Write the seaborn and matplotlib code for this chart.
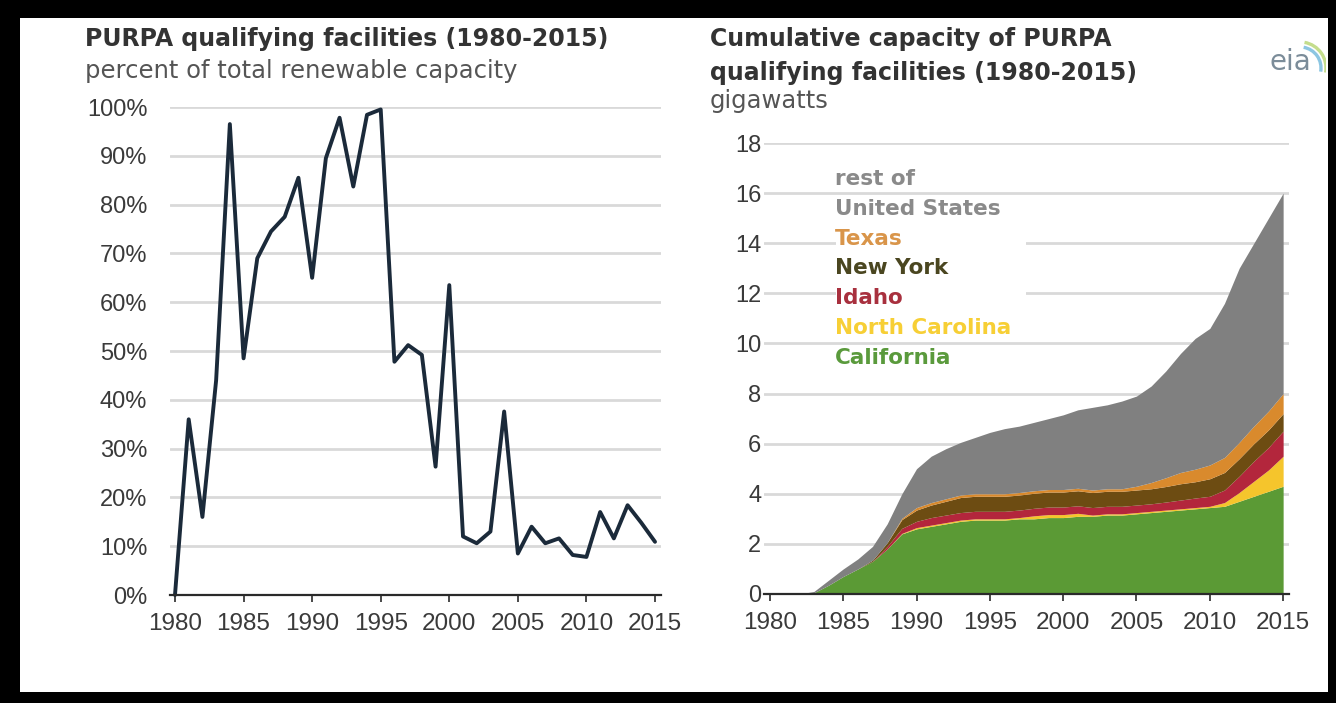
import numpy as np
import pandas as pd
import matplotlib
matplotlib.use("Agg")
import matplotlib.pyplot as plt
import matplotlib.patches as mpatches
import seaborn as sns

# ---- data -------------------------------------------------------------
years = list(range(1980, 2016))

# PURPA qualifying facilities, percent of total renewable capacity added
purpa_share = [0, 36, 16, 44, 96.5, 48.5, 69, 74.5, 77.5, 85.5,
               65, 89.5, 97.8, 83.7, 98.4, 99.5, 47.8, 51.2, 49.2, 26.3,
               63.5, 12, 10.6, 13, 37.6, 8.5, 14, 10.6, 11.6, 8.2,
               7.8, 17, 11.6, 18.4, 14.8, 10.9]

# Cumulative capacity of PURPA qualifying facilities, gigawatts, by state
california = [0, 0, 0, 0.05, 0.35, 0.7, 1.0, 1.3, 1.8, 2.4,
              2.6, 2.7, 2.8, 2.9, 2.95, 2.95, 2.95, 3.0, 3.0, 3.05,
              3.05, 3.1, 3.1, 3.15, 3.15, 3.2, 3.25, 3.3, 3.35, 3.4,
              3.45, 3.5, 3.7, 3.9, 4.1, 4.3]
north_carolina = [0, 0, 0, 0, 0, 0, 0, 0, 0, 0.02,
                  0.05, 0.05, 0.05, 0.05, 0.05, 0.05, 0.05, 0.05, 0.12, 0.12,
                  0.12, 0.12, 0.05, 0.05, 0.05, 0.05, 0.05, 0.05, 0.05, 0.05,
                  0.05, 0.15, 0.35, 0.6, 0.85, 1.2]
idaho = [0, 0, 0, 0, 0, 0, 0, 0, 0.1, 0.2,
         0.25, 0.3, 0.3, 0.3, 0.3, 0.3, 0.3, 0.3, 0.3, 0.3,
         0.3, 0.3, 0.3, 0.3, 0.3, 0.3, 0.3, 0.32, 0.35, 0.38,
         0.4, 0.5, 0.65, 0.8, 0.9, 1.0]
new_york = [0, 0, 0, 0, 0, 0, 0, 0.05, 0.15, 0.35,
            0.45, 0.5, 0.55, 0.6, 0.6, 0.6, 0.6, 0.6, 0.6, 0.6,
            0.6, 0.6, 0.6, 0.6, 0.6, 0.6, 0.6, 0.62, 0.65, 0.65,
            0.7, 0.7, 0.7, 0.7, 0.7, 0.7]
texas = [0, 0, 0, 0, 0, 0, 0, 0, 0, 0.05,
         0.1, 0.1, 0.1, 0.1, 0.1, 0.1, 0.1, 0.1, 0.1, 0.1,
         0.1, 0.1, 0.1, 0.1, 0.1, 0.15, 0.25, 0.35, 0.45, 0.5,
         0.55, 0.6, 0.65, 0.7, 0.75, 0.8]
rest_of_us = [0, 0, 0, 0.05, 0.2, 0.3, 0.4, 0.55, 0.75, 0.98,
              1.55, 1.85, 2.0, 2.1, 2.25, 2.45, 2.6, 2.65, 2.73, 2.83,
              2.98, 3.13, 3.3, 3.35, 3.5, 3.6, 3.85, 4.26, 4.75, 5.22,
              5.45, 6.15, 6.95, 7.3, 7.7, 8.0]

layer_names = ["California", "North Carolina", "Idaho", "New York", "Texas",
               "rest of United States"]
layer_colors = ["#5b9a35", "#f5c52c", "#b3263c", "#6d4c12", "#d98a2d", "#808080"]

legend_lines = ["rest of", "United States", "Texas", "New York", "Idaho",
                "North Carolina", "California"]
legend_colors = ["#8a8a8a", "#8a8a8a", "#d9954a", "#4a4620", "#a8303e",
                 "#f7cf35", "#5a9a3c"]

pct_ticks = list(range(0, 101, 10))
gw_ticks = list(range(0, 19, 2))
year_ticks = list(range(1980, 2016, 5))

# ---- style ------------------------------------------------------------
sns.set_theme(style="white")
plt.rcParams["font.family"] = ["Liberation Sans", "DejaVu Sans"]
WIDE = ["DejaVu Sans"]

W, H = 1336, 703
fig = plt.figure(figsize=(W / 100, H / 100), dpi=100)
fig.patch.set_facecolor("black")
fig.add_artist(mpatches.Rectangle((20 / W, 11 / H), (1328 - 20) / W, (692 - 18) / H,
                                  transform=fig.transFigure, facecolor="white",
                                  edgecolor="none", zorder=0))

def px_axes(x0, x1, ytop, ybot):
    return fig.add_axes([x0 / W, 1 - ybot / H, (x1 - x0) / W, (ybot - ytop) / H])

tick_color = "#3a3a3a"
grid_color = "#d9d9d9"

def style_axes(ax, yticks, ylabels, ypad):
    ax.set_facecolor("none")
    for s in ("left", "right", "top"):
        ax.spines[s].set_visible(False)
    ax.spines["bottom"].set_color("#2a2a2a")
    ax.spines["bottom"].set_linewidth(1.6)
    ax.set_yticks(yticks)
    ax.set_yticklabels(ylabels)
    ax.set_xticks(year_ticks)
    ax.set_xticklabels([str(y) for y in year_ticks])
    ax.yaxis.grid(True, color=grid_color, linewidth=2.0)
    ax.xaxis.grid(False)
    ax.set_axisbelow(True)
    ax.tick_params(axis="y", length=0, pad=ypad, labelsize=17, labelcolor=tick_color)
    ax.tick_params(axis="x", length=5, width=1.2, color="#2a2a2a", direction="out",
                   pad=8, labelsize=17.5, labelcolor=tick_color, bottom=True)
    ax.set_xlabel("")
    ax.set_ylabel("")

# ---- left panel: share line ------------------------------------------
axL = px_axes(169.5, 660.5, 107, 595)
share_df = pd.DataFrame({"year": years, "share": purpa_share})
sns.lineplot(data=share_df, x="year", y="share", ax=axL, color="#1b2a3a",
             linewidth=2.8, clip_on=False)
axL.set_xlim(1979.6, 2015.4)
axL.set_ylim(0, 100)
style_axes(axL, pct_ticks, [f"{v}%" for v in pct_ticks], 16)

# ---- right panel: stacked capacity -----------------------------------
axR = px_axes(764, 1289, 143, 594)
layers = [california, north_carolina, idaho, new_york, texas, rest_of_us]
axR.stackplot(years, *layers, colors=layer_colors, labels=layer_names,
              linewidth=0, zorder=2)
axR.set_xlim(1979.6, 2015.4)
axR.set_ylim(0, 18)
style_axes(axR, gw_ticks, [str(v) for v in gw_ticks], 2)

# white panel behind the label block
axR.add_patch(mpatches.Rectangle((1984.5, 10.9), 13.0, 4.0, facecolor="white",
                                 edgecolor="none", zorder=1.5))

# ---- titles -----------------------------------------------------------
title_color = "#333333"
fig.text(85 / W, 1 - 46 / H, "PURPA qualifying facilities (1980-2015)",
         fontsize=17, fontweight="bold", color=title_color, va="baseline", family=WIDE)
fig.text(85 / W, 1 - 78 / H, "percent of total renewable capacity",
         fontsize=17.5, color="#555555", va="baseline", family=WIDE)
fig.text(710 / W, 1 - 46 / H, "Cumulative capacity of PURPA",
         fontsize=17, fontweight="bold", color=title_color, va="baseline", family=WIDE)
fig.text(710 / W, 1 - 80 / H, "qualifying facilities (1980-2015)",
         fontsize=17, fontweight="bold", color=title_color, va="baseline", family=WIDE)
fig.text(710 / W, 1 - 108 / H, "gigawatts",
         fontsize=17.5, color="#555555", va="baseline", family=WIDE)

# ---- in-chart legend labels ------------------------------------------
for i, (txt, col) in enumerate(zip(legend_lines, legend_colors)):
    fig.text(835 / W, 1 - (185 + 29.8 * i) / H, txt, fontsize=15.5,
             fontweight="bold", color=col, va="baseline", family=WIDE)

# ---- eia mark ---------------------------------------------------------
logo = fig.add_axes([1262 / W, 1 - 80 / H, 64 / W, 50 / H])
logo.set_xlim(0, 64)
logo.set_ylim(0, 50)
logo.axis("off")
for r, c in zip([26, 21], ["#c4dd8c", "#8cc6e2"]):
    logo.add_patch(mpatches.Arc((38, 12), 2 * r, 2 * r, theta1=-10, theta2=80,
                                color=c, linewidth=2.4))
logo.text(28, 10, "eia", fontsize=20, color="#7b8c99", ha="center", va="baseline",
          family=WIDE)

fig.savefig("out.png", dpi=100, facecolor=fig.get_facecolor())
